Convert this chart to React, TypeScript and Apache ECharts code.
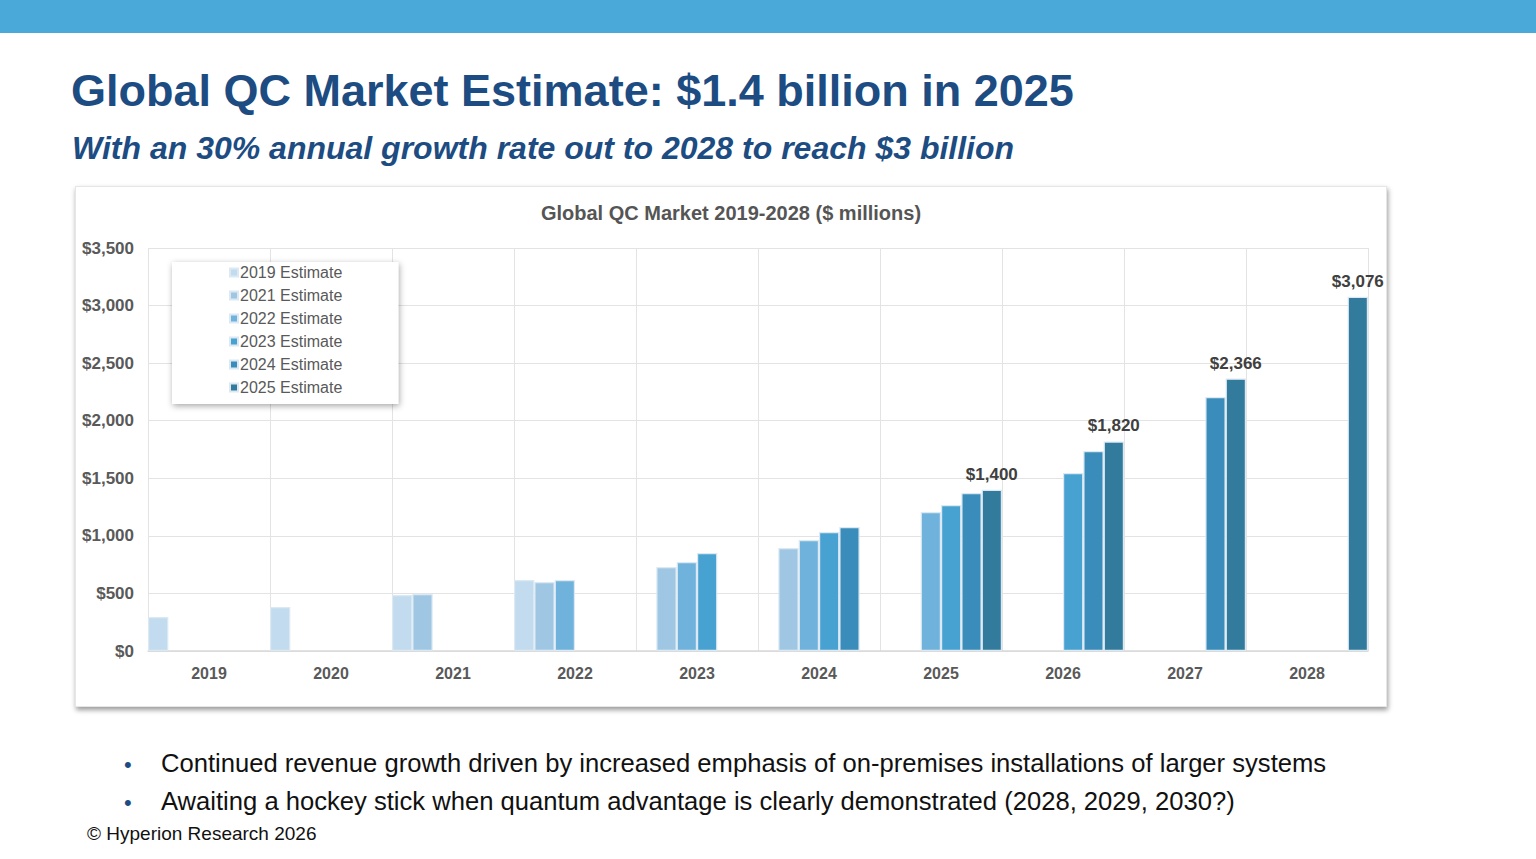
import { useEffect, useRef } from "react";
import * as echarts from "echarts";

const YEARS = ["2019", "2020", "2021", "2022", "2023", "2024", "2025", "2026", "2027", "2028"];
const SERIES_NAMES = ["2019 Estimate", "2021 Estimate", "2022 Estimate", "2023 Estimate", "2024 Estimate", "2025 Estimate"];
const COLORS = ["#c2dbee", "#9fc7e4", "#6fb3dc", "#47a2d1", "#3a8dba", "#327b9d"];

const EST_2019 = [295, 382, 486, 616, null, null, null, null, null, null];
const EST_2021 = [null, null, 495, 599, 729, 894, null, null, null, null];
const EST_2022 = [null, null, null, 616, 773, 963, 1207, null, null, null];
const EST_2023 = [null, null, null, null, 851, 1033, 1267, 1545, null, null];
const EST_2024 = [null, null, null, null, null, 1076, 1371, 1736, 2205, null];
const EST_2025 = [null, null, null, null, null, null, 1400, 1820, 2366, 3076];
const LABELLED = ["2025", "2026", "2027", "2028"];

const SERIES_DATA = [EST_2019, EST_2021, EST_2022, EST_2023, EST_2024, EST_2025];

const FONT = "'Liberation Sans', Arial, sans-serif";
const NAVY = "#1c4c82";

function MarketChart() {
  const elRef = useRef<HTMLDivElement>(null);

  useEffect(() => {
    const el = elRef.current;
    if (!el) return;
    const chart = echarts.init(el, undefined, { renderer: "svg" });
    chart.setOption({
      animation: false,
      textStyle: { fontFamily: FONT },
      title: {
        text: "Global QC Market 2019-2028 ($ millions)",
        left: "center",
        top: 12,
        textStyle: { fontSize: 20, fontWeight: "bold", color: "#555", fontFamily: FONT },
      },
      grid: { left: 73, right: 19, top: 62, bottom: 56 },
      legend: {
        data: SERIES_NAMES,
        orient: "vertical",
        left: 97,
        top: 76,
        padding: [2, 56, 8, 57],
        backgroundColor: "#fff",
        shadowColor: "rgba(0,0,0,0.35)",
        shadowBlur: 6,
        shadowOffsetX: 1,
        shadowOffsetY: 2,
        icon: "rect",
        itemWidth: 8,
        itemHeight: 8,
        itemGap: 6,
        textStyle: { fontSize: 16, color: "#595959", lineHeight: 17, fontFamily: FONT, padding: [0, 0, 0, -3] },
      },
      xAxis: {
        type: "category",
        data: YEARS,
        axisLine: { lineStyle: { color: "#d9d9d9", width: 1.5 } },
        axisTick: { show: false },
        splitLine: { show: true, interval: 0, lineStyle: { color: "#e3e3e3" } },
        axisLabel: { color: "#595959", fontSize: 16, fontWeight: "bold", margin: 14 },
      },
      yAxis: {
        type: "value",
        min: 0,
        max: 3500,
        interval: 500,
        axisLine: { show: false },
        axisTick: { show: false },
        splitLine: { lineStyle: { color: "#e3e3e3" } },
        axisLabel: {
          color: "#595959",
          fontSize: 17,
          fontWeight: "bold",
          margin: 14,
          formatter: (v: number) => "$" + v.toLocaleString("en-US"),
        },
      },
      series: SERIES_NAMES.map((name, i) => ({
        name,
        type: "bar",
        barGap: "0%",
        barCategoryGap: "0%",
        itemStyle: { color: COLORS[i], borderColor: "#dce9f3", borderWidth: 1.2 },
        data: SERIES_DATA[i].map((v, j) =>
          i === 5 && v != null && LABELLED.includes(YEARS[j])
            ? {
                value: v,
                label: {
                  show: true,
                  position: "top",
                  distance: 7,
                  fontSize: 17,
                  fontWeight: "bold",
                  color: "#404040",
                  formatter: (p: { value: number }) => "$" + p.value.toLocaleString("en-US"),
                },
              }
            : v,
        ),
      })),
    });
    return () => chart.dispose();
  }, []);

  return <div ref={elRef} style={{ width: 1312, height: 521 }} />;
}

export default function App() {
  return (
    <div
      style={{
        position: "fixed",
        left: 0,
        top: 0,
        width: 1536,
        height: 859,
        background: "#fff",
        fontFamily: FONT,
        overflow: "hidden",
      }}
    >
      <div style={{ position: "absolute", left: 0, top: 0, width: 1536, height: 33, background: "#4aa9d8" }} />
      <div style={{ position: "absolute", left: 71, top: 65, fontSize: 45, fontWeight: "bold", color: NAVY, whiteSpace: "nowrap" }}>
        Global QC Market Estimate: $1.4 billion in 2025
      </div>
      <div
        style={{
          position: "absolute",
          left: 72,
          top: 130,
          fontSize: 32,
          fontWeight: "bold",
          fontStyle: "italic",
          color: NAVY,
          whiteSpace: "nowrap",
        }}
      >
        With an 30% annual growth rate out to 2028 to reach $3 billion
      </div>
      <div
        style={{
          position: "absolute",
          left: 75,
          top: 186,
          width: 1312,
          height: 521,
          background: "#fff",
          boxShadow: "1px 3px 5px rgba(0,0,0,0.4)",
          border: "1px solid #e6e6e6",
          boxSizing: "border-box",
        }}
      >
        <div style={{ position: "absolute", left: -1, top: -1 }}>
          <MarketChart />
        </div>
      </div>
      <div style={{ position: "absolute", left: 124, top: 745, fontSize: 25.6, color: "#111", lineHeight: "37px", whiteSpace: "nowrap" }}>
        <div>
          <span style={{ display: "inline-block", width: 37, color: NAVY, fontSize: 22 }}>•</span>
          Continued revenue growth driven by increased emphasis of on-premises installations of larger systems
        </div>
        <div>
          <span style={{ display: "inline-block", width: 37, color: NAVY, fontSize: 22 }}>•</span>
          Awaiting a hockey stick when quantum advantage is clearly demonstrated (2028, 2029, 2030?)
        </div>
      </div>
      <div style={{ position: "absolute", left: 87, top: 823, fontSize: 19, color: "#111" }}>© Hyperion Research 2026</div>
    </div>
  );
}
